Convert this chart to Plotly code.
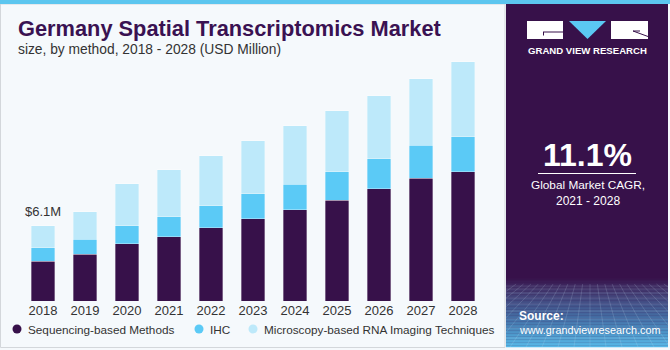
import plotly.graph_objects as go

# ---------------- data ----------------
years = ["2018", "2019", "2020", "2021", "2022", "2023", "2024", "2025", "2026", "2027", "2028"]
sequencing = [3.25, 3.82, 4.64, 5.21, 5.94, 6.67, 7.40, 8.21, 9.11, 10.00, 10.49]
ihc = [1.06, 1.22, 1.46, 1.63, 1.79, 2.03, 2.11, 2.28, 2.44, 2.68, 2.85]
microscopy = [1.79, 2.20, 3.42, 3.82, 4.07, 4.31, 4.72, 4.96, 5.12, 5.37, 6.10]
series_names = ["Sequencing-based Methods", "IHC", "Microscopy-based RNA Imaging Techniques"]
series_colors = ["#37114A", "#5BCAF6", "#BDE9FA"]
first_label = "&#36;6.1M"

W, H = 670, 350
FONT = "Liberation Sans, Arial, sans-serif"


def px(x):
    return x / W


def py(y):
    return 1 - y / H


fig = go.Figure()
for name, vals, col in zip(series_names, [sequencing, ihc, microscopy], series_colors):
    fig.add_trace(go.Bar(
        x=years, y=vals, name=name, marker_color=col,
        marker_line=dict(width=0.6, color="rgba(255,255,255,0.55)"),
        showlegend=False, hoverinfo="x+y+name",
    ))

totals = [a + b + c for a, b, c in zip(sequencing, ihc, microscopy)]

shapes = []
# left panel border
shapes.append(dict(type="rect", xref="paper", yref="paper", x0=px(0.5), x1=px(505), y0=py(347.5), y1=py(4),
                   line=dict(color="#D3D7DB", width=1), fillcolor="rgba(0,0,0,0)", layer="below"))
# top stripe
shapes.append(dict(type="rect", xref="paper", yref="paper", x0=0, x1=1, y0=py(4), y1=1,
                   line=dict(width=0), fillcolor="#5CC6EF", layer="below"))
# right purple panel
shapes.append(dict(type="rect", xref="paper", yref="paper", x0=px(506), x1=px(668), y0=py(347), y1=py(4),
                   line=dict(width=0), fillcolor="#37114A", layer="below"))


# gradient at bottom of right panel
def lerp(c1, c2, t):
    return tuple(int(round(a + (b - a) * t)) for a, b in zip(c1, c2))


stops = [(278, (55, 17, 74)), (292, (66, 58, 112)), (318, (68, 110, 165)), (347, (86, 185, 232))]
n = 46
y_start, y_end = 278, 347
for i in range(n):
    y0 = y_start + (y_end - y_start) * i / n
    y1 = y_start + (y_end - y_start) * (i + 1) / n
    ym = (y0 + y1) / 2
    for (sa, ca), (sb, cb) in zip(stops[:-1], stops[1:]):
        if sa <= ym <= sb:
            c = lerp(ca, cb, (ym - sa) / (sb - sa))
            break
    shapes.append(dict(type="rect", xref="paper", yref="paper", x0=px(506), x1=px(668), y0=py(y1 + 0.3), y1=py(y0),
                       line=dict(width=0), fillcolor="rgb(%d,%d,%d)" % c, layer="below"))

# decorative perspective grid
grid_col = "rgba(200,225,245,0.22)"
hy = [286, 289, 293, 298, 304, 311, 319, 328, 338]
for yy in hy:
    shapes.append(dict(type="line", xref="paper", yref="paper", x0=px(506), x1=px(668), y0=py(yy), y1=py(yy),
                       line=dict(color=grid_col, width=0.8), layer="below"))
vp_x, vp_y = 590, 230
for xb in range(430, 760, 16):
    t0 = (284 - vp_y) / (347 - vp_y)
    xa = vp_x + (xb - vp_x) * t0
    xb_c = xb
    ya, yb = 284, 347
    if xb_c < 506 or xb_c > 668:
        lim = 506 if xb_c < 506 else 668
        if (xa - lim) * (xb - lim) > 0:
            continue
        tt = (lim - xa) / (xb - xa)
        yb = ya + (yb - ya) * tt
        xb_c = lim
    shapes.append(dict(type="line", xref="paper", yref="paper", x0=px(xa), x1=px(xb_c), y0=py(ya), y1=py(yb),
                       line=dict(color=grid_col, width=0.8), layer="below"))

# logo
shapes.append(dict(type="rect", xref="paper", yref="paper", x0=px(527), x1=px(563), y0=py(39), y1=py(21),
                   line=dict(width=0), fillcolor="white"))
shapes.append(dict(type="path", xref="paper", yref="paper",
                   path="M %f %f L %f %f L %f %f Z" % (px(569), py(21), px(606), py(21), px(587.5), py(39)),
                   line=dict(width=0), fillcolor="#5BC8F3"))
shapes.append(dict(type="rect", xref="paper", yref="paper", x0=px(611), x1=px(648), y0=py(39), y1=py(21),
                   line=dict(width=0), fillcolor="white"))
shapes.append(dict(type="line", xref="paper", yref="paper", x0=px(543), x1=px(563), y0=py(32), y1=py(32),
                   line=dict(color="#37114A", width=1)))
shapes.append(dict(type="line", xref="paper", yref="paper", x0=px(543.5), x1=px(543.5), y0=py(32), y1=py(35.5),
                   line=dict(color="#37114A", width=1)))
shapes.append(dict(type="line", xref="paper", yref="paper", x0=px(633), x1=px(648), y0=py(31), y1=py(36.5),
                   line=dict(color="#37114A", width=1)))
shapes.append(dict(type="line", xref="paper", yref="paper", x0=px(633), x1=px(640), y0=py(31), y1=py(31),
                   line=dict(color="#37114A", width=1)))
# CAGR underline
shapes.append(dict(type="line", xref="paper", yref="paper", x0=px(538), x1=px(636), y0=py(173.5), y1=py(173.5),
                   line=dict(color="white", width=1)))

annotations = []
# title & subtitle
annotations.append(dict(text="<b>Germany Spatial Transcriptomics Market</b>", xref="paper", yref="paper",
                        x=px(16), y=py(28.5), xanchor="left", yanchor="middle", showarrow=False,
                        font=dict(family=FONT, size=21.8, color="#3A1252")))
annotations.append(dict(text="size, by method, 2018 - 2028 (USD Million)", xref="paper", yref="paper",
                        x=px(16), y=py(49), xanchor="left", yanchor="middle", showarrow=False,
                        font=dict(family=FONT, size=13.8, color="#333333")))
# first bar value label
annotations.append(dict(text=first_label, x=0, y=totals[0], xref="x", yref="y",
                        xanchor="center", yanchor="bottom", yshift=5, showarrow=False,
                        font=dict(family=FONT, size=13, color="#333333")))
# legend (circles + text)
legend_x = [17, 199, 253]
for name, col, lx in zip(series_names, series_colors, legend_x):
    shapes.append(dict(type="circle", xref="paper", yref="paper", x0=px(lx - 4.5), x1=px(lx + 4.5),
                       y0=py(333.5), y1=py(324.5), line=dict(width=0), fillcolor=col))
    annotations.append(dict(text=name, xref="paper", yref="paper", x=px(lx + 9), y=py(329),
                            xanchor="left", yanchor="middle", showarrow=False,
                            font=dict(family=FONT, size=11.75, color="#333333")))
# right panel text
annotations.append(dict(text="<b>GRAND VIEW RESEARCH</b>", xref="paper", yref="paper", x=px(587.5), y=py(51),
                        xanchor="center", yanchor="middle", showarrow=False,
                        font=dict(family=FONT, size=9.6, color="white")))
annotations.append(dict(text="<b>11.1%</b>", xref="paper", yref="paper", x=px(587.5), y=py(155),
                        xanchor="center", yanchor="middle", showarrow=False,
                        font=dict(family=FONT, size=32, color="white")))
annotations.append(dict(text="Global Market CAGR,", xref="paper", yref="paper", x=px(587.5), y=py(185),
                        xanchor="center", yanchor="middle", showarrow=False,
                        font=dict(family=FONT, size=11.8, color="white")))
annotations.append(dict(text="2021 - 2028", xref="paper", yref="paper", x=px(587.5), y=py(201),
                        xanchor="center", yanchor="middle", showarrow=False,
                        font=dict(family=FONT, size=12, color="white")))
annotations.append(dict(text="<b>Source:</b>", xref="paper", yref="paper", x=px(517), y=py(316),
                        xanchor="left", yanchor="middle", showarrow=False,
                        font=dict(family=FONT, size=12, color="white")))
annotations.append(dict(text="www.grandviewresearch.com", xref="paper", yref="paper", x=px(517), y=py(330),
                        xanchor="left", yanchor="middle", showarrow=False,
                        font=dict(family=FONT, size=10.8, color="white")))

fig.update_layout(
    width=W, height=H,
    margin=dict(l=0, r=0, t=0, b=0),
    barmode="stack", bargap=0.43,
    paper_bgcolor="#F5F9FC", plot_bgcolor="rgba(0,0,0,0)",
    xaxis=dict(domain=[px(22), px(484)], range=[-0.5, 10.5], type="category",
               showgrid=False, zeroline=False, showline=False, ticks="",
               tickfont=dict(family=FONT, size=13, color="#333333")),
    yaxis=dict(domain=[1 - 301 / H, 1 - 55 / H], range=[0, 20], visible=False, showgrid=False),
    shapes=shapes, annotations=annotations,
    font=dict(family=FONT),
    showlegend=False,
)

fig.write_html("out.html")
